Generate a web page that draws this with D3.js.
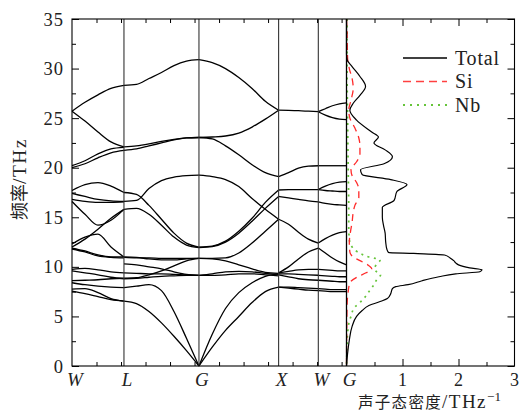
<!DOCTYPE html>
<html>
<head>
<meta charset="utf-8">
<script src="https://cdn.jsdelivr.net/npm/d3@7"></script>
<style>
  body { margin: 0; background: #fff; }
  svg { display: block; }
</style>
</head>
<body>
<svg></svg>
<script>
// high symmetry points along the path (in bottom-tick units)
let kLabels = ["W", "L", "G", "X", "W", "G"]
let kPos = [0, 2.12, 5.18, 8.43, 10.05, 11.2]
let freqTicks = [0, 5, 10, 15, 20, 25, 30, 35]
let dosTicks = [1, 2, 3]

// bands per segment, values sampled evenly from start to end of segment (THz)
let bandsWL = [
  [25.7, 26.6, 27.35, 28.0, 28.3],
  [25.7, 24.7, 23.6, 22.6, 22.1],
  [20.2, 20.7, 21.4, 21.9, 22.05],
  [20.0, 20.4, 21.0, 21.5, 21.75],
  [17.7, 18.3, 18.5, 18.15, 17.5],
  [17.4, 17.1, 16.8, 16.65, 16.6],
  [16.8, 16.6, 16.5, 16.5, 16.55],
  [16.6, 15.3, 14.2, 14.7, 15.8],
  [12.3, 13.0, 13.3, 12.0, 11.0],
  [12.0, 12.8, 13.8, 14.9, 15.8],
  [11.9, 11.6, 11.2, 11.0, 11.0],
  [11.8, 11.5, 11.1, 10.95, 10.9],
  [9.75, 9.85, 9.7, 9.5, 9.4],
  [9.6, 9.4, 9.2, 8.95, 8.8],
  [8.6, 8.65, 8.7, 8.8, 8.85],
  [8.4, 8.2, 8.05, 7.95, 7.9],
  [7.75, 7.8, 7.4, 6.8, 6.55],
  [7.55, 7.3, 7.0, 6.7, 6.55]
]
let bandsLG = [
  [28.3, 28.4, 29.0, 29.6, 30.3, 30.75, 30.9],
  [22.1, 22.2, 22.4, 22.65, 22.85, 23.0, 23.05],
  [21.75, 21.9, 22.2, 22.5, 22.8, 23.0, 23.05],
  [17.5, 17.3, 16.2, 14.8, 13.4, 12.4, 12.0],
  [16.6, 16.7, 17.9, 18.7, 19.05, 19.2, 19.25],
  [15.8, 15.9, 15.3, 14.2, 13.0, 12.2, 11.95],
  [11.0, 10.95, 10.8, 10.7, 10.7, 10.8, 10.85],
  [10.95, 10.9, 10.9, 10.85, 10.85, 10.85, 10.85],
  [10.3, 10.2, 10.0, 9.8, 9.5, 9.25, 9.15],
  [9.4, 9.35, 9.3, 9.3, 9.25, 9.2, 9.15],
  [8.85, 8.9, 9.2, 9.6, 10.1, 10.6, 10.85],
  [8.8, 8.85, 8.95, 9.05, 9.1, 9.15, 9.15],
  [7.9, 8.05, 8.2, 7.6, 5.5, 2.8, 0],
  [6.55, 6.3, 5.5, 4.35, 3.0, 1.55, 0]
]
let bandsGX = [
  [30.9, 30.6, 30.0, 29.1, 28.0, 26.7, 25.8],
  [23.05, 23.1, 23.2, 23.5, 24.1, 24.9, 25.8],
  [23.05, 22.9, 22.2, 21.3, 20.3, 19.5, 19.1],
  [19.25, 19.1, 18.8, 18.1, 16.9, 15.8, 14.8],
  [12.0, 12.1, 12.6, 13.6, 14.9, 16.5, 17.75],
  [11.95, 12.05, 12.5, 13.4, 14.6, 15.9, 17.1],
  [10.85, 10.85, 10.9, 11.4, 12.4, 13.6, 14.8],
  [10.85, 10.8, 10.6, 10.2, 9.8, 9.45, 9.35],
  [9.15, 9.3, 9.5, 9.55, 9.5, 9.35, 9.25],
  [9.15, 9.15, 9.2, 9.3, 9.3, 9.2, 9.1],
  [0, 3.2, 5.8, 7.4, 8.4, 9.05, 9.3],
  [0, 1.9, 3.6, 5.0, 6.4, 7.5, 7.95]
]
let bandsXW = [
  [25.8, 25.78, 25.75, 25.7, 25.65],
  [19.1, 19.5, 19.95, 20.15, 20.2],
  [17.75, 17.78, 17.8, 17.8, 17.8],
  [17.1, 16.95, 16.8, 16.65, 16.55],
  [14.8, 14.3, 13.5, 12.8, 12.4],
  [9.4, 10.0, 10.8, 11.5, 11.9],
  [9.4, 9.55, 9.7, 9.75, 9.75],
  [9.3, 9.3, 9.25, 9.2, 9.15],
  [9.2, 9.0, 8.8, 8.7, 8.65],
  [7.95, 7.95, 7.9, 7.85, 7.8],
  [7.95, 7.85, 7.75, 7.65, 7.6]
]
let bandsWG = [
  [25.65, 25.95, 26.25, 26.45, 26.55],
  [25.65, 25.3, 25.05, 24.9, 24.85],
  [20.2, 20.2, 20.2, 20.2, 20.2],
  [17.8, 18.15, 18.4, 18.55, 18.6],
  [17.8, 17.7, 17.65, 17.6, 17.6],
  [16.55, 16.4, 16.3, 16.25, 16.2],
  [12.4, 12.85, 13.2, 13.45, 13.55],
  [11.9, 11.4, 10.9, 10.5, 10.2],
  [9.75, 9.7, 9.65, 9.6, 9.6],
  [9.15, 9.1, 9.05, 9.0, 9.0],
  [8.65, 8.6, 8.55, 8.5, 8.5],
  [7.8, 7.75, 7.7, 7.7, 7.7],
  [7.6, 7.55, 7.5, 7.5, 7.5]
]

// phonon density of states, [freq (THz), states/THz]
let dosTotal = [
  [0, 0], [1.3, 0.02], [2.6, 0.05], [4.0, 0.1], [5.0, 0.18], [5.6, 0.28], [6.1, 0.4],
  [6.5, 0.6], [6.8, 0.73], [7.3, 0.79], [7.8, 0.82], [8.0, 0.88], [8.2, 1.1], [8.6, 1.35],
  [9.0, 1.65], [9.3, 1.95], [9.5, 2.38], [9.7, 2.42], [9.9, 2.2], [10.2, 2.0], [10.4, 1.95],
  [10.6, 1.92], [10.9, 1.85], [11.2, 1.75], [11.35, 1.2], [11.45, 0.75], [11.8, 0.72],
  [12.5, 0.7], [13.4, 0.69], [14.2, 0.66], [15.0, 0.64], [16.0, 0.64], [16.7, 0.85],
  [17.6, 0.9], [18.3, 1.08], [18.8, 0.79], [19.3, 0.28], [19.8, 0.25], [20.4, 0.67],
  [21.1, 0.82], [21.8, 0.69], [22.5, 0.49], [23.1, 0.57], [23.6, 0.45], [24.8, 0.18],
  [25.8, 0.06], [26.5, 0.12], [27.3, 0.24], [28.2, 0.34], [29.2, 0.24], [30.2, 0.1],
  [30.9, 0.01], [31.5, 0], [35, 0]
]
let dosSi = [
  [0, 0], [6, 0.01], [7.5, 0.03], [8.4, 0.06], [9.0, 0.2], [9.4, 0.35], [9.8, 0.45],
  [10.2, 0.38], [10.6, 0.25], [11.0, 0.12], [11.5, 0.06], [12.5, 0.05], [13.5, 0.07],
  [14.5, 0.1], [15.5, 0.12], [16.2, 0.15], [17.0, 0.22], [17.8, 0.22], [18.5, 0.18],
  [19.2, 0.1], [19.8, 0.08], [20.6, 0.18], [21.3, 0.24], [22.2, 0.24], [23.0, 0.22],
  [24.0, 0.15], [25.0, 0.06], [25.8, 0.04], [26.8, 0.08], [28.0, 0.12], [29.0, 0.1],
  [30.0, 0.05], [31.0, 0.02], [33.5, 0.01], [35, 0]
]
let dosNb = [
  [0, 0], [2, 0.01], [3.3, 0.02], [4.5, 0.05], [5.0, 0.08], [5.8, 0.13], [6.8, 0.31],
  [7.5, 0.4], [8.2, 0.49], [8.8, 0.55], [9.2, 0.61], [9.6, 0.52], [9.9, 0.5], [10.3, 0.55],
  [10.7, 0.6], [11.0, 0.4], [11.5, 0.2], [12.0, 0.1], [12.8, 0.05], [14, 0.04], [16, 0.04],
  [20, 0.03], [25, 0.02], [30, 0.01], [35, 0.01]
]

let legendItems = ["Total", "Si", "Nb"]

let width = 524
let height = 412
let pLeft = 72, pMid = 346.5, pRight = 514.5, pTop = 19, pBottom = 366

let serif = "'Liberation Serif', 'DejaVu Serif', serif"
let cjk = "'Noto Sans CJK SC', sans-serif"
let ink = "#222"

let svg = d3.select("svg").attr("width", width).attr("height", height)

let yScale = d3.scaleLinear().domain([0, 35]).range([pBottom, pTop])
let kScale = d3.scaleLinear().domain([0, kPos[kPos.length - 1]]).range([pLeft, pMid])
let dosScale = d3.scaleLinear().domain([0, 3]).range([pMid, pRight])

let bandLine = d3.line().curve(d3.curveMonotoneX)

let drawBands = () => {
  let segs = [bandsWL, bandsLG, bandsGX, bandsXW, bandsWG]
  segs.forEach((bands, i) => {
    let k0 = kPos[i], k1 = kPos[i + 1]
    bands.forEach(b => {
      let pts = b.map((f, j) => [kScale(k0 + (k1 - k0) * j / (b.length - 1)), yScale(f)])
      svg.append("path")
         .attr("d", bandLine(pts))
         .attr("fill", "none")
         .attr("stroke", "#000")
         .attr("stroke-width", 1.3)
    })
  })
  // vertical lines at symmetry points
  kPos.slice(1, -1).forEach(k => {
    svg.append("line")
       .attr("x1", kScale(k)).attr("x2", kScale(k))
       .attr("y1", pTop).attr("y2", pBottom)
       .attr("stroke", "#333")
       .attr("stroke-width", 1.1)
  })
}

// inward ticks, longer on the majors
let tickSet = (g, axis, scale, values, isMajor) => {
  g.call(axis(scale).tickValues(values).tickFormat(""))
  g.selectAll(".tick line")
   .attr("stroke", "#000")
   .each(function (d) {
     let len = isMajor(d) ? 7 : 4
     let el = d3.select(this)
     if (el.attr("x2") !== null && +el.attr("x2") !== 0) el.attr("x2", Math.sign(+el.attr("x2")) * len)
     if (el.attr("y2") !== null && +el.attr("y2") !== 0) el.attr("y2", Math.sign(+el.attr("y2")) * len)
   })
  g.select(".domain").remove()
}

let drawAxes = () => {
  let fTicks = d3.range(0, 35.1, 2.5)
  let fMajor = d => d % 5 === 0
  tickSet(svg.append("g").attr("transform", `translate(${pLeft},0)`), d3.axisRight, yScale, fTicks, fMajor)
  tickSet(svg.append("g").attr("transform", `translate(${pRight},0)`), d3.axisLeft, yScale, fTicks, fMajor)

  let kTicks = d3.range(1, kPos[kPos.length - 1], 1)
  tickSet(svg.append("g").attr("transform", `translate(0,${pBottom})`), d3.axisTop, kScale, kTicks, () => false)
  tickSet(svg.append("g").attr("transform", `translate(0,${pTop})`), d3.axisBottom, kScale, kTicks, () => false)

  let dTicks = d3.range(0.5, 3, 0.5)
  let dMajor = d => d % 1 === 0
  tickSet(svg.append("g").attr("transform", `translate(0,${pBottom})`), d3.axisTop, dosScale, dTicks, dMajor)
  tickSet(svg.append("g").attr("transform", `translate(0,${pTop})`), d3.axisBottom, dosScale, dTicks, dMajor)

  svg.append("rect")
     .attr("x", pLeft).attr("y", pTop)
     .attr("width", pRight - pLeft).attr("height", pBottom - pTop)
     .attr("fill", "none").attr("stroke", "#000").attr("stroke-width", 1.1)
  svg.append("line")
     .attr("x1", pMid).attr("x2", pMid).attr("y1", pTop).attr("y2", pBottom)
     .attr("stroke", "#000").attr("stroke-width", 1.3)

  svg.selectAll(".ylab")
     .data(freqTicks)
     .enter()
     .append("text")
     .attr("x", pLeft - 8)
     .attr("y", d => yScale(d) + 6.5)
     .attr("text-anchor", "end")
     .attr("fill", ink)
     .style("font-family", serif)
     .style("font-size", "18.5px")
     .style("letter-spacing", "1px")
     .text(d => d)

  svg.selectAll(".klab")
     .data(kLabels)
     .enter()
     .append("text")
     .attr("x", (d, i) => kScale(kPos[i]) + 3)
     .attr("y", 385.5)
     .attr("text-anchor", "middle")
     .attr("fill", ink)
     .style("font-family", serif)
     .style("font-style", "italic")
     .style("font-size", "19px")
     .text(d => d)

  svg.selectAll(".dlab")
     .data(dosTicks)
     .enter()
     .append("text")
     .attr("x", d => dosScale(d))
     .attr("y", 385.5)
     .attr("text-anchor", "middle")
     .attr("fill", ink)
     .style("font-family", serif)
     .style("font-size", "18px")
     .text(d => d)

  let xt = svg.append("text")
     .attr("x", 358).attr("y", 407.5)
     .attr("fill", ink)
     .style("font-size", "15.5px")
  xt.append("tspan").style("font-family", cjk).style("letter-spacing", "1.3px").text("声子态密度")
  xt.append("tspan").style("font-family", serif).style("font-size", "19px")
    .style("letter-spacing", "1.5px").text("/THz")
  xt.append("tspan").style("font-family", serif).style("font-size", "13px")
    .attr("baseline-shift", "super").text("−1")

  let yt = svg.append("text")
     .attr("transform", "translate(26,179) rotate(-90)")
     .attr("text-anchor", "middle")
     .attr("fill", ink)
     .style("font-size", "18px")
  yt.append("tspan").style("font-family", cjk).text("频率")
  yt.append("tspan").style("font-family", serif).style("font-size", "19.5px")
    .style("letter-spacing", "1.5px").text("/THz")
}

let drawDos = () => {
  let dosLine = d3.line()
                  .x(d => dosScale(d[1]))
                  .y(d => yScale(d[0]))
                  .curve(d3.curveMonotoneY)
  let rev = arr => arr.slice().reverse()
  svg.append("path")
     .attr("d", dosLine(rev(dosNb)))
     .attr("fill", "none").attr("stroke", "#66c43a")
     .attr("stroke-width", 1.7).attr("stroke-dasharray", "2,4.5")
  svg.append("path")
     .attr("d", dosLine(rev(dosSi)))
     .attr("fill", "none").attr("stroke", "#ff2a2a")
     .attr("stroke-width", 1.3).attr("stroke-dasharray", "7,5")
  svg.append("path")
     .attr("d", dosLine(rev(dosTotal)))
     .attr("fill", "none").attr("stroke", "#000")
     .attr("stroke-width", 1.2)
}

let drawLegend = () => {
  let styles = [
    {stroke: "#000", dash: null, w: 1.3},
    {stroke: "#ff4040", dash: "8,5", w: 1.3},
    {stroke: "#66c43a", dash: "2,5", w: 1.8}
  ]
  legendItems.forEach((name, i) => {
    let y = 58 + i * 23.5
    svg.append("line")
       .attr("x1", 403).attr("x2", 447)
       .attr("y1", y).attr("y2", y)
       .attr("stroke", styles[i].stroke)
       .attr("stroke-width", styles[i].w)
       .attr("stroke-dasharray", styles[i].dash)
    svg.append("text")
       .attr("x", 455).attr("y", y + 6.5)
       .attr("fill", ink)
       .style("font-family", serif)
       .style("font-size", "20px")
       .style("letter-spacing", "0.8px")
       .text(name)
  })
}

drawBands()
drawDos()
drawAxes()
drawLegend()
</script>
</body>
</html>
